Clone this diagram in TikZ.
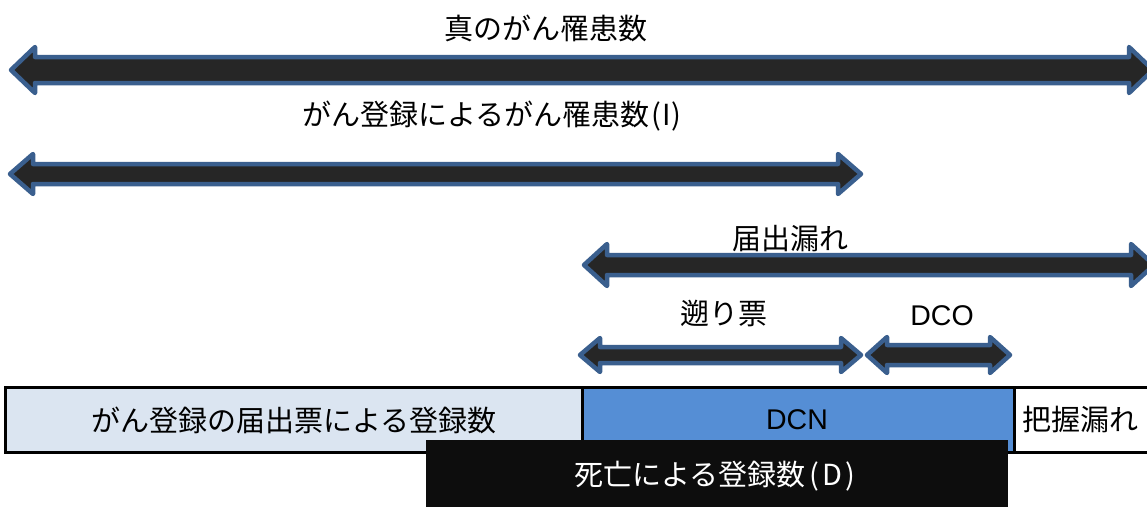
\documentclass[tikz,border=0pt]{standalone}
\usepackage{fontspec}
\setmainfont{Noto Sans CJK JP}
\newfontfamily\latfont{Liberation Sans}
\definecolor{arrowline}{HTML}{3A5F8E}
\definecolor{arrowfill}{HTML}{262626}
\definecolor{lightbox}{HTML}{DBE5F1}
\definecolor{dcnblue}{HTML}{558ED5}
\definecolor{deathbox}{HTML}{0D0D0D}
\tikzset{
  barrow/.style={draw=arrowline, fill=arrowfill, line width=4.5pt, line join=round},
  lbl/.style={font=\fontsize{29}{34}\selectfont, inner sep=0pt},
  latlbl/.style={font=\latfont\fontsize{28.5}{33}\selectfont, inner sep=0pt},
  regbox/.style={draw=black, line width=2.5pt, anchor=north west, inner sep=0pt},
}
% #1 y, #2 left tip x, #3 right tip x, #4 head half-height, #5 shaft half-height, #6 head length
\newcommand\dblarrow[6]{%
  \draw[barrow] (#2,#1) -- (#2+#6,#1-#4) -- (#2+#6,#1-#5) -- (#3-#6,#1-#5)
    -- (#3-#6,#1-#4) -- (#3,#1) -- (#3-#6,#1+#4) -- (#3-#6,#1+#5)
    -- (#2+#6,#1+#5) -- (#2+#6,#1+#4) -- cycle;}
\begin{document}
\begin{tikzpicture}[x=1pt,y=-1pt]
\path[use as bounding box, clip] (0,0) rectangle (1147,506);
\fill[white] (0,0) rectangle (1147,506);

% arrows
\dblarrow{70}{11}{1153}{23}{13}{24}
\dblarrow{174}{10}{861}{20}{10}{23}
\dblarrow{265}{584}{1154}{21}{10}{23}
\dblarrow{355}{580}{861}{17}{8}{20}
\dblarrow{355}{867}{1010}{18}{10}{20}

% arrow labels
\node[lbl] (true) at (546,28) {真のがん罹患数};
\node[lbl] (incid) at (492,116) {がん登録によるがん罹患数\hspace{2pt}(\hspace{1pt}I\hspace{1pt})};
\node[lbl] (omit) at (790,239) {届出漏れ};
\node[lbl] (retro) at (724,313) {遡り票};
\node[latlbl] (dco) at (942,316) {DCO};

% bars
\node[regbox, fill=lightbox, minimum width=577pt, minimum height=65pt] (reg) at (4,386) {};
\node[lbl] (regtxt) at (294,420) {がん登録の届出票による登録数};
\node[regbox, fill=dcnblue, minimum width=432pt, minimum height=65pt] (dcn) at (581,386) {};
\node[latlbl] (dcntxt) at (797,420) {DCN};
\node[regbox, fill=white, minimum width=160pt, minimum height=65pt] (miss) at (1013,386) {};
\node[lbl] (misstxt) at (1080,419) {把握漏れ};
\node[fill=deathbox, anchor=north west, inner sep=0pt, minimum width=582pt, minimum height=70pt] (death) at (426,440) {};
\node[lbl, text=white] (deathtxt) at (715,476) {死亡による登録数\hspace{4pt}(\hspace{3pt}D\hspace{3pt})};
\end{tikzpicture}
\end{document}
